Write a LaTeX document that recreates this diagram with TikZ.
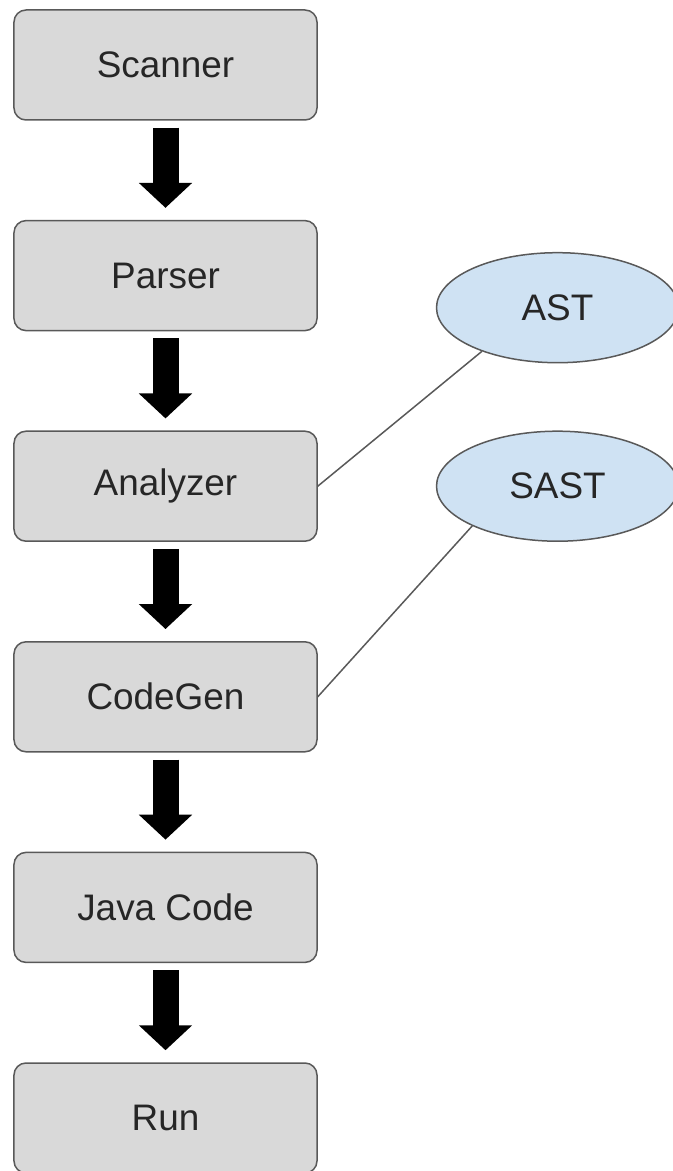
\documentclass[tikz,border=0pt]{standalone}
\usepackage{fontspec}
\setmainfont{Liberation Sans}
\usepackage{xcolor}
\usepackage{tikz}
\usetikzlibrary{positioning, shapes.geometric, arrows.meta}

\definecolor{boxgray}{HTML}{D9D9D9}
\definecolor{edgegray}{HTML}{595959}
\definecolor{treeblue}{HTML}{CFE2F3}

\begin{document}
\begin{tikzpicture}[
            node distance=1.982cm,
            font=\fontsize{21}{24}\selectfont,
            box/.style={rectangle, draw=edgegray, fill=boxgray, line width=0.03cm, minimum width=6.06cm, minimum height=2.2cm, rounded corners=0.24cm, text=black!85},
            tree/.style={ellipse, draw=edgegray, fill=treeblue, line width=0.03cm, minimum width=4.84cm, minimum height=2.2cm, inner sep=0pt, text=black!85},
            arrow/.style={-{Triangle[width=1.04cm, length=0.5cm]}, line width=0.52cm, shorten <=0.14cm, shorten >=0.24cm},
            link/.style={draw=edgegray, line width=0.03cm}
        ]
        \useasboundingbox (-3.31,1.3) rectangle (10.13,-22.12);

        \node[box] (scanner) at (0,0) {Scanner};
        \node[box, below=of scanner] (parser) {Parser};
        \node[box, below=of parser] (analyzer) {Analyzer};
        \node[box, below=of analyzer] (codegen) {CodeGen};
        \node[box, below=of codegen] (javacode) {Java Code};
        \node[box, below=of javacode] (run) {Run};

        \node[tree, right=2.36cm of analyzer] (sast) {SAST};
        \node[tree, above=1.34cm of sast] (ast) {AST};

        \draw[arrow] (scanner) -- (parser);
        \draw[arrow] (parser) -- (analyzer);
        \draw[arrow] (analyzer) -- (codegen);
        \draw[arrow] (codegen) -- (javacode);
        \draw[arrow] (javacode) -- (run);

        \draw[link] (analyzer.east) -- (ast.210);
        \draw[link] (codegen.east) -- (sast.205);
    \end{tikzpicture}
\end{document}
